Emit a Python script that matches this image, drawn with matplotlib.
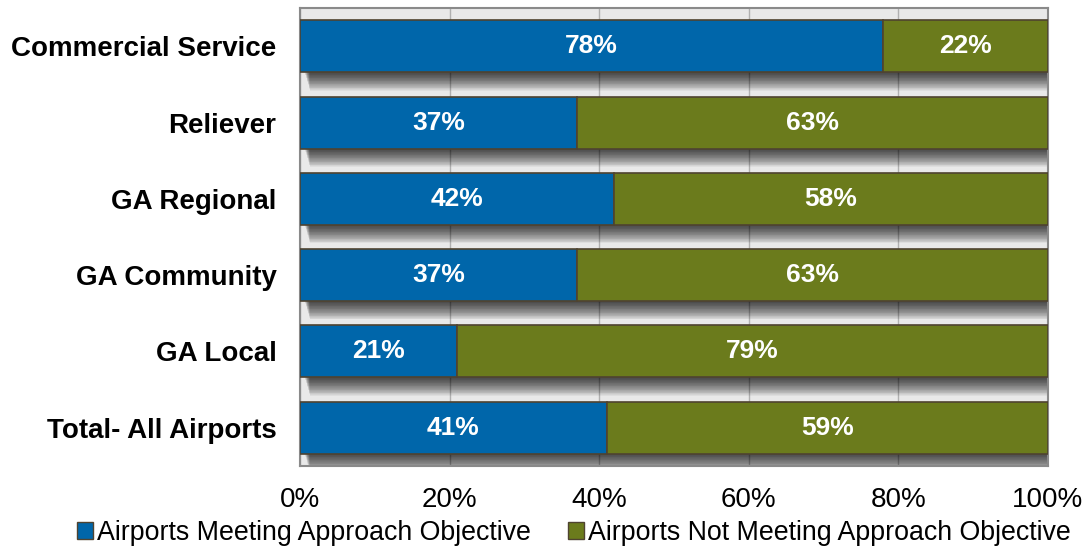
#!/usr/bin/env python3

"""
stacked horizontal bar chart: share of airports meeting the approach
objective, by airport role.
output: out.png
"""

import matplotlib.pyplot as plt
from matplotlib.patches import Patch

plt.rcParams['font.family'] = ['Liberation Sans', 'DejaVu Sans']

CATEGORIES = ["Commercial Service", "Reliever", "GA Regional",
              "GA Community", "GA Local", "Total- All Airports"]
MEETING = [78, 37, 42, 37, 21, 41]
NOT_MEETING = [22, 63, 58, 63, 79, 59]
SERIES_NAMES = ["Airports Meeting Approach Objective",
                "Airports Not Meeting Approach Objective"]
TICKS = [0, 20, 40, 60, 80, 100]

BLUE = "#0066aa"
OLIVE = "#6b7b1c"
EDGE = "#4f4330"

fig = plt.figure(figsize=(10.87, 5.48), dpi=100)
ax = fig.add_axes([0.276, 0.150, 0.688, 0.835])

ypos = list(range(len(CATEGORIES)))
height = 0.68
totals = [m + n for m, n in zip(MEETING, NOT_MEETING)]

# soft drop shadow under each bar: stacked offset copies fade out downwards
for k in range(1, 25):
    off = k * 0.01
    ax.barh([y + off for y in ypos], totals, height=height,
            left=0.6 + k * 0.03, color="black",
            alpha=0.045, linewidth=0, zorder=2)

ax.barh(ypos, MEETING, height=height, color=BLUE, edgecolor=EDGE,
        linewidth=1.2, zorder=3)
ax.barh(ypos, NOT_MEETING, height=height, left=MEETING, color=OLIVE,
        edgecolor=EDGE, linewidth=1.2, zorder=3)

for y, m, n in zip(ypos, MEETING, NOT_MEETING):
    ax.text(m / 2, y, f"{m}%", ha="center", va="center", color="white",
            fontsize=19, fontweight="bold", zorder=4)
    ax.text(m + n / 2, y, f"{n}%", ha="center", va="center", color="white",
            fontsize=19, fontweight="bold", zorder=4)

ax.set_xlim(0, 100)
ax.set_ylim(len(CATEGORIES) - 0.5, -0.5)
ax.set_facecolor("#e9e9e9")
ax.set_xticks(TICKS)
ax.set_xticklabels([f"{t}%" for t in TICKS], fontsize=20)
ax.set_yticks(ypos)
ax.set_yticklabels(CATEGORIES, fontsize=20, fontweight="bold")
ax.tick_params(axis="y", length=0, pad=17)
ax.tick_params(axis="x", length=0, pad=15)
ax.grid(axis="x", color="#b0b0b0", linewidth=1, zorder=1)
ax.set_axisbelow(True)
for s in ax.spines.values():
    s.set_color("#8a8a8a")
    s.set_linewidth(1.5)

handles = [Patch(facecolor=BLUE, edgecolor=EDGE),
           Patch(facecolor=OLIVE, edgecolor=EDGE)]
fig.legend(handles, SERIES_NAMES, loc="lower center", ncol=2,
           bbox_to_anchor=(0.528, -0.04), frameon=False, fontsize=19.3,
           handlelength=0.6, handleheight=0.6, handletextpad=0.15,
           columnspacing=1.4)

plt.savefig("out.png", dpi=100)
